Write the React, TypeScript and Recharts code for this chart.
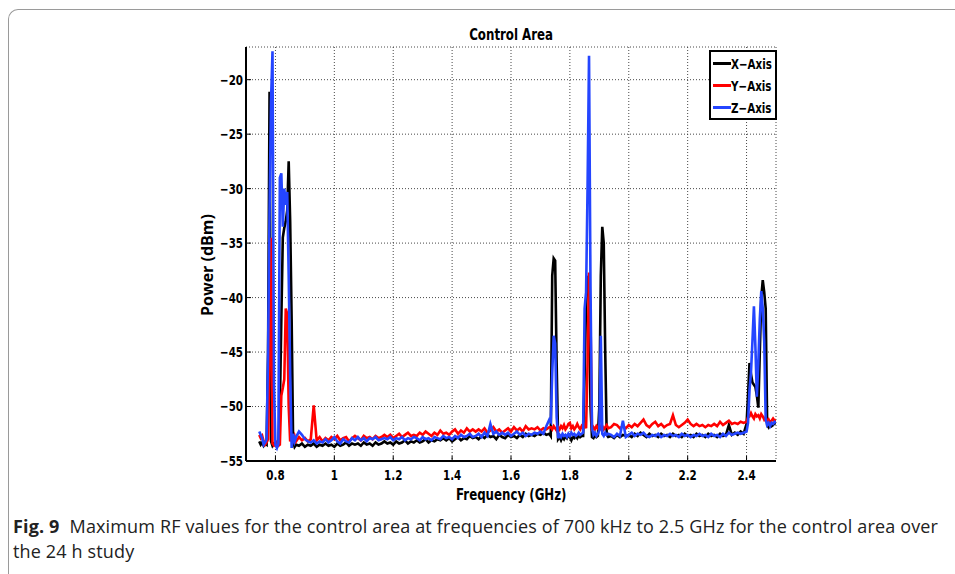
import React from "react";
import { LineChart, Line, XAxis, YAxis, CartesianGrid } from "recharts";

// frequency grid (GHz): finer steps around the peaks
const freqGHz = [
  0.745, 0.75, 0.755, 0.76, 0.765, 0.77, 0.775, 0.78, 0.785, 0.79, 0.795, 0.8, 0.805, 0.81, 0.815, 0.82, 0.825, 0.83, 0.835, 0.84, 0.845, 0.85, 0.855, 0.86, 0.865, 0.87,
  0.88, 0.89, 0.9, 0.91, 0.92, 0.93, 0.94, 0.95, 0.96, 0.97,
  0.98, 0.99, 1.0, 1.01, 1.02, 1.03, 1.04, 1.05, 1.06, 1.07,
  1.08, 1.09, 1.1, 1.11, 1.12, 1.13, 1.14, 1.15, 1.16, 1.17,
  1.18, 1.19, 1.2, 1.21, 1.22, 1.23, 1.24, 1.25, 1.26, 1.27,
  1.28, 1.29, 1.3, 1.31, 1.32, 1.33, 1.34, 1.35, 1.36, 1.37,
  1.38, 1.39, 1.4, 1.41, 1.42, 1.43, 1.44, 1.45, 1.46, 1.47,
  1.48, 1.49, 1.5, 1.51, 1.52, 1.53, 1.54, 1.55, 1.56, 1.57,
  1.58, 1.59, 1.6, 1.61, 1.62, 1.63, 1.64, 1.65, 1.66, 1.67,
  1.68, 1.69, 1.7, 1.71, 1.72, 1.73,
  1.735, 1.74, 1.745, 1.75, 1.755, 1.76, 1.765, 1.77, 1.775, 1.78, 1.785, 1.79, 1.795, 1.8, 1.805, 1.81, 1.815, 1.82, 1.825, 1.83,
  1.835, 1.84, 1.845, 1.85, 1.855, 1.86, 1.865, 1.87, 1.875, 1.88, 1.885, 1.89, 1.895, 1.9, 1.905, 1.91, 1.915, 1.92, 1.925, 1.93,
  1.94, 1.95, 1.96, 1.97, 1.98, 1.99, 2.0, 2.01, 2.02, 2.03,
  2.04, 2.05, 2.06, 2.07, 2.08, 2.09, 2.1, 2.11, 2.12, 2.13,
  2.14, 2.15, 2.16, 2.17, 2.18, 2.19, 2.2, 2.21, 2.22, 2.23,
  2.24, 2.25, 2.26, 2.27, 2.28, 2.29, 2.3, 2.31, 2.32, 2.33,
  2.34, 2.35, 2.36, 2.37, 2.38, 2.39, 2.4,
  2.405, 2.41, 2.415, 2.42, 2.425, 2.43, 2.435, 2.44, 2.445, 2.45, 2.455, 2.46, 2.465, 2.47, 2.475, 2.48, 2.485, 2.49, 2.495, 2.5,
];

const xAxisDbm = [
  -53.2, -53.5, -53.3, -53.6, -53.4, -53.5, -45, -21.1, -53.2, -53.6, -53.4, -53.5, -53.3, -53.6, -50, -42, -34.5, -33.6, -33, -32, -27.5, -33, -42, -53.2, -53.7, -53.5,
  -53.6, -53.4, -53.7, -53.5, -53.6, -53.4, -53.7, -53.5, -53.6, -53.4,
  -53.6, -53.5, -53.7, -53.4, -53.6, -53.5, -53.3, -53.6, -53.4, -53.5,
  -53.4, -53.6, -53.3, -53.5, -53.4, -53.6, -53.3, -53.5, -53.4, -53.2,
  -53.4, -53.3, -53.5, -53.2, -53.4, -53.3, -53.1, -53.4, -53.2, -53.3,
  -53.1, -53.3, -53.2, -53.0, -53.3, -53.1, -53.2, -53.0, -53.1, -52.9,
  -53.1, -52.9, -53.2, -53.0, -52.8, -53.1, -52.9, -53.0, -52.7, -52.9,
  -52.8, -53.0, -52.7, -52.9, -52.6, -52.8, -52.7, -53.0, -52.6, -52.8,
  -52.9, -52.6, -52.8, -52.7, -52.9, -52.6, -52.8, -52.5, -52.7, -52.6,
  -52.7, -52.5, -52.6, -52.4, -52.6, -52.5,
  -52.7, -38, -36.4, -36.6, -46, -53.0, -52.8, -53.1, -52.8, -53.0, -52.7, -52.9, -52.6, -52.8, -53.1, -52.8, -52.9, -52.7, -52.9, -52.6,
  -52.8, -52.7, -52.7, -47, -40.5, -38, -39, -50, -52.8, -52.9, -52.6, -52.8, -52.7, -50, -38, -33.5, -35, -45, -52.6, -52.8,
  -52.7, -52.9, -52.6, -52.8, -52.6, -52.7, -52.6, -52.8, -52.5, -52.7,
  -52.4, -52.6, -52.8, -52.5, -52.7, -52.6, -52.8, -52.5, -52.7, -52.6,
  -52.8, -52.5, -52.7, -52.6, -52.8, -52.5, -52.7, -52.6, -52.8, -52.5,
  -52.7, -52.6, -52.8, -52.5, -52.7, -52.6, -52.8, -52.5, -52.7, -52.6,
  -51.7, -52.6, -52.4, -52.6, -52.3, -52.5, -51.6,
  -49, -46, -47, -47.8, -48, -48.2, -49, -50.1, -45, -40, -38.4, -39.5, -41, -51.7, -51.9, -51.6, -51.8, -51.7, -51.5, -51.6,
];

const yAxisDbm = [
  -52.6, -52.9, -52.7, -53.2, -53.5, -53.3, -53, -45, -34.5, -53.4, -53.6, -53.5, -53.3, -53.6, -53.5, -49, -48.3, -47.5, -41, -41.5, -50, -53.2, -52.8, -53.1, -52.7, -53.2,
  -52.8, -53.1, -52.9, -53.2, -53.0, -49.9, -53.1, -52.8, -53.2, -52.9,
  -53.1, -52.8, -53.0, -52.7, -53.1, -52.9, -52.8, -53.2, -52.9, -52.7,
  -52.9, -53.1, -52.7, -52.9, -52.8, -53.0, -52.7, -52.9, -52.8, -52.6,
  -52.8, -52.6, -52.9, -52.7, -52.5, -52.8, -52.6, -52.4, -52.7, -52.6,
  -52.7, -52.4, -52.6, -52.3, -52.5, -52.7, -52.4, -52.6, -52.2, -52.5,
  -52.4, -52.6, -52.3, -52.1, -52.5, -52.2, -52.4, -52.0, -52.3, -52.1,
  -52.3, -52.1, -52.3, -52.0, -52.4, -52.2, -51.9, -52.3, -52.1, -52.4,
  -52.2, -52.0, -52.3, -51.9, -52.2, -52.0, -52.3, -51.8, -52.1, -52.0,
  -52.1, -51.9, -52.2, -52.0, -52.1, -51.9,
  -51.9, -52.1, -51.8, -52.0, -52.2, -51.9, -52.1, -51.8, -52.0, -51.7, -52.1, -51.9, -51.6, -51.5, -52.0, -51.8, -52.1, -51.9, -51.6, -51.9,
  -52.1, -51.8, -52.0, -51.7, -52.0, -46, -37.7, -42, -52.2, -51.9, -52.1, -51.8, -52.0, -51.7, -52.0, -51.8, -52.1, -51.9, -51.7, -52.0,
  -51.9, -51.6, -51.7, -52.0, -51.8, -52.0, -51.7, -51.9, -51.6, -51.8,
  -51.5, -51.2, -51.7, -51.9, -51.6, -51.4, -51.8, -51.6, -51.9, -51.7,
  -51.6, -50.8, -51.7, -51.9, -51.7, -51.5, -51.2, -51.6, -51.8, -51.6,
  -51.8, -51.7, -51.9, -51.7, -51.8, -51.6, -51.8, -51.4, -51.7, -51.5,
  -51.3, -51.6, -51.5, -51.6, -51.4, -51.5, -51.4,
  -51.0, -50.9, -50.6, -50.9, -51.1, -50.7, -50.9, -50.8, -51.1, -50.7, -50.9, -51.2, -51.0, -51.4, -51.2, -51.5, -51.3, -51.1, -51.3, -51.2,
];

const zAxisDbm = [
  -52.3, -52.6, -52.9, -53.5, -53.3, -53, -45, -32, -22, -17.4, -48, -53.5, -53.8, -53.4, -29, -28.6, -33.5, -30, -31.5, -30.3, -38, -47, -53.8, -52.5, -53.2, -52.8,
  -52.3, -52.6, -53.0, -53.2, -53.3, -53.1, -53.4, -53.2, -53.3, -53.0,
  -53.3, -53.1, -52.8, -53.2, -53.4, -53.0, -53.2, -53.3, -52.9, -53.1,
  -52.8, -53.1, -52.9, -53.2, -52.9, -53.0, -52.8, -53.1, -53.0, -52.9,
  -53.0, -52.8, -53.1, -52.9, -53.0, -52.8, -53.1, -52.9, -53.0, -52.8,
  -52.9, -53.1, -52.8, -53.0, -52.9, -53.1, -52.8, -52.9, -53.0, -52.7,
  -52.9, -52.8, -53.0, -52.7, -52.9, -52.6, -52.8, -52.7, -52.5, -52.8,
  -52.7, -52.5, -52.8, -52.4, -52.7, -51.6, -52.5, -52.3, -52.6, -52.4,
  -52.6, -52.4, -52.7, -52.5, -52.3, -52.6, -52.4, -52.7, -52.5, -52.6,
  -52.4, -52.5, -52.3, -52.5, -51.8, -51.2,
  -51.4, -47, -43.5, -44.2, -51, -52.9, -52.6, -52.8, -52.5, -52.7, -52.6, -52.8, -52.5, -52.7, -52.4, -52.6, -52.5, -52.7, -52.6, -52.4,
  -52.6, -52.5, -52.4, -41, -39.5, -30, -17.8, -39, -52, -52.6, -52.4, -52.7, -52.5, -52.2, -43.5, -52.5, -52.7, -52.4, -52.6, -52.5,
  -52.6, -52.8, -52.5, -52.7, -51.3, -52.8, -52.6, -52.4, -52.7, -52.5,
  -52.6, -52.4, -52.7, -52.8, -52.6, -52.7, -52.5, -52.8, -52.6, -52.7,
  -52.5, -52.7, -52.6, -52.8, -52.5, -52.7, -52.6, -52.8, -52.6, -52.7,
  -52.5, -52.7, -52.6, -52.8, -52.5, -52.7, -52.6, -52.8, -52.5, -52.7,
  -52.4, -52.6, -52.5, -52.4, -52.5, -52.4, -52.3,
  -51.5, -48.5, -46.9, -44, -40.8, -44.5, -49.1, -46, -42, -39.4, -41, -44, -51.2, -51.7, -51.5, -51.8, -51.5, -51.6, -51.4, -51.5,
];

const freqTicks = [0.8, 1, 1.2, 1.4, 1.6, 1.8, 2, 2.2, 2.4];
const powerTicks = [-55, -50, -45, -40, -35, -30, -25, -20];

const series = [
  { key: "x", name: "X\u2212Axis", color: "#000000" },
  { key: "y", name: "Y\u2212Axis", color: "#ff0000" },
  { key: "z", name: "Z\u2212Axis", color: "#2445ff" },
];

const captionLines = [
  "Maximum RF values for the control area at frequencies of 700 kHz to 2.5 GHz for the control area over",
  "the 24 h study",
];

const rows = freqGHz.map((f, i) => ({ f, x: xAxisDbm[i], y: yAxisDbm[i], z: zAxisDbm[i] }));

const narrow = '"DejaVu Sans Condensed", "DejaVu Sans", sans-serif';
const squeeze = 0.82;
const fmtPower = (v: number) => (v < 0 ? "\u2212" + Math.abs(v) : String(v));
const frame = { stroke: "#000", strokeWidth: 2 };

// condensed bold tick label (MATLAB-style look)
const NarrowTick = (props: any) => {
  const { x, y, payload, textAnchor, dy, formatter } = props;
  const label = formatter ? formatter(payload.value) : String(payload.value);
  return (
    <text
      transform={`translate(${x},${y}) scale(${squeeze},1)`}
      x={0}
      y={0}
      dy={dy}
      textAnchor={textAnchor}
      fontFamily={narrow}
      fontWeight={700}
      fontSize={14}
      fill="#000"
    >
      {label}
    </text>
  );
};

const squeezed = (origin: string): React.CSSProperties => ({
  display: "inline-block",
  transform: `scaleX(${squeeze})`,
  transformOrigin: origin,
  whiteSpace: "nowrap",
});

const captionFont: React.CSSProperties = {
  fontFamily: '"Open Sans", sans-serif',
  fontSize: 18,
  letterSpacing: 0.15,
  lineHeight: "25px",
  color: "#222",
  whiteSpace: "nowrap",
};

export default function App() {
  return (
    <div style={{ position: "absolute", left: 0, top: 0, width: 955, height: 574, overflow: "hidden", background: "#fff" }}>
      <div
        style={{
          position: "absolute", left: 8, top: 9, width: 1000, height: 700,
          borderLeft: "1px solid #9a9a9a", borderTop: "1px solid #9a9a9a", borderTopLeftRadius: 10,
        }}
      />
      <LineChart
        width={955}
        height={574}
        data={rows}
        margin={{ top: 47, right: 179, left: 186, bottom: 83 }}
        style={{ position: "absolute", left: 0, top: 0 }}
      >
        <CartesianGrid xAxisId="b" yAxisId="l" stroke="#333" strokeDasharray="1 2" strokeWidth={0.9} />
        <XAxis
          xAxisId="b" dataKey="f" type="number" domain={[0.7, 2.5]} ticks={freqTicks} allowDataOverflow
          height={30} axisLine={frame} tickLine={{ stroke: "#000" }} tickSize={-5} tickMargin={14}
          tick={<NarrowTick dy="0.71em" />} interval={0}
        />
        <XAxis
          xAxisId="t" orientation="top" dataKey="f" type="number" domain={[0.7, 2.5]} ticks={freqTicks} allowDataOverflow
          height={0} axisLine={frame} tickLine={{ stroke: "#000" }} tickSize={-5} tickFormatter={() => ""}
        />
        <YAxis
          yAxisId="l" type="number" domain={[-55, -17]} ticks={powerTicks} allowDataOverflow
          width={60} axisLine={frame} tickLine={{ stroke: "#000" }} tickSize={-5} tickMargin={8}
          tick={<NarrowTick dy="0.355em" formatter={fmtPower} />} interval={0}
        />
        <YAxis
          yAxisId="r" orientation="right" type="number" domain={[-55, -17]} ticks={powerTicks} allowDataOverflow
          width={0} axisLine={frame} tickLine={{ stroke: "#000" }} tickSize={-5} tickFormatter={() => ""}
        />
        {series.map((s) => (
          <Line
            key={s.key}
            xAxisId="b"
            yAxisId="l"
            dataKey={s.key}
            name={s.name}
            type="linear"
            stroke={s.color}
            strokeWidth={2.6}
            dot={false}
            isAnimationActive={false}
          />
        ))}
      </LineChart>

      <div style={{ position: "absolute", left: 246, width: 530, top: 27, textAlign: "center", fontFamily: narrow, fontWeight: 700, fontSize: 16, lineHeight: "16px" }}>
        <span style={squeezed("center")}>Control Area</span>
      </div>
      <div style={{ position: "absolute", left: 246, width: 530, top: 487, textAlign: "center", fontFamily: narrow, fontWeight: 700, fontSize: 16, lineHeight: "16px" }}>
        <span style={squeezed("center")}>Frequency (GHz)</span>
      </div>
      <div
        style={{
          position: "absolute", left: 207 - 80, top: 265 - 9, width: 160, height: 18, textAlign: "center",
          transform: "rotate(-90deg)", fontFamily: '"Open Sans", sans-serif', fontWeight: 700, fontSize: 16, lineHeight: "18px",
        }}
      >
        Power (dBm)
      </div>

      <div
        style={{
          position: "absolute", left: 709, top: 50, width: 64, height: 66, border: "2px solid #000", background: "#fff",
          fontFamily: narrow, fontWeight: 700, fontSize: 14,
        }}
      >
        {series.map((s) => (
          <div key={s.key} style={{ display: "flex", alignItems: "center", height: 21, marginTop: 1 }}>
            <span style={{ display: "inline-block", width: 18, height: 3, background: s.color, marginLeft: 2, flex: "none" }} />
            <span style={squeezed("left center")}>{s.name}</span>
          </div>
        ))}
      </div>

      <div style={{ position: "absolute", left: 13, top: 514, display: "flex", ...captionFont }}>
        <span style={{ fontWeight: 700, marginRight: 10 }}>Fig. 9</span>
        <span>{captionLines[0]}</span>
      </div>
      <div style={{ position: "absolute", left: 13, top: 539, ...captionFont }}>{captionLines[1]}</div>
    </div>
  );
}
